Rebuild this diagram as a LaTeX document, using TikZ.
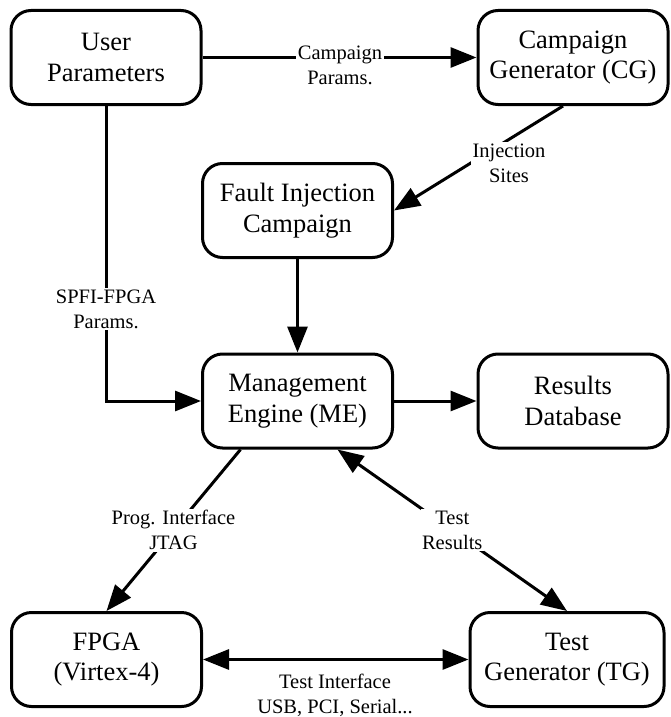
\documentclass[tikz,border=0pt]{standalone}
\usepackage{fontspec}
\setmainfont{Liberation Serif}
\usetikzlibrary{arrows.meta}
\begin{document}
\begin{tikzpicture}[x=1pt,y=-1pt,
  box/.style={draw, line width=3pt, rounded corners=20pt, minimum width=190pt, minimum height=94pt, align=center, font=\fontsize{26.5}{30.5}\selectfont, inner sep=0pt},
  lbl/.style={fill=white, align=center, font=\fontsize{20.5}{25}\selectfont, inner sep=1.5pt},
  conn/.style={line width=3pt, -{Triangle[length=26pt,width=20pt]}},
  dconn/.style={line width=3pt, {Triangle[length=26pt,width=20pt]}-{Triangle[length=26pt,width=20pt]}}]
\fill[white] (0,0) rectangle (670,717);
\useasboundingbox (0,0) rectangle (670,717);

\node[box] (up) at (106,57.5) {User\\Parameters};
\node[box] (cg) at (573,57.5) {Campaign\\Generator (CG)};
\node[box] (fi) at (297.5,210.5) {Fault Injection\\Campaign};
\node[box] (me) at (297.5,401) {Management\\Engine (ME)};
\node[box] (rd) at (573,401) {Results\\Database};
\node[box] (fpga) at (106.5,659.5) {FPGA\\(Virtex-4)};
\node[box, minimum width=194pt] (tg) at (567,659.5) {Test\\Generator (TG)};

\draw[conn] (up) -- (cg);
\node[lbl] (l1) at (340,65) {Campaign\\Params.};

\draw[conn] ([xshift=-10pt]cg.south) -- (fi.east);
\node[lbl] (l2) at (509,163) {Injection\\Sites};

\draw[conn] (fi) -- (me);

\draw[conn] (up.south) |- (me.west);
\node[lbl] (l4) at (106,309) {SPFI-FPGA\\Params.};

\draw[conn] (me) -- (rd);

\draw[conn] ([xshift=-57pt]me.south) -- node[lbl] (l6) {Prog. Interface\\JTAG} (fpga.north);
\draw[dconn] ([xshift=40pt]me.south) -- node[lbl] (l7) {Test\\Results} (tg.north);

\draw[dconn] (fpga) -- (tg);
\node[lbl, fill=none] (l8) at (335,695) {Test Interface\\USB, PCI, Serial...};
\end{tikzpicture}
\end{document}
